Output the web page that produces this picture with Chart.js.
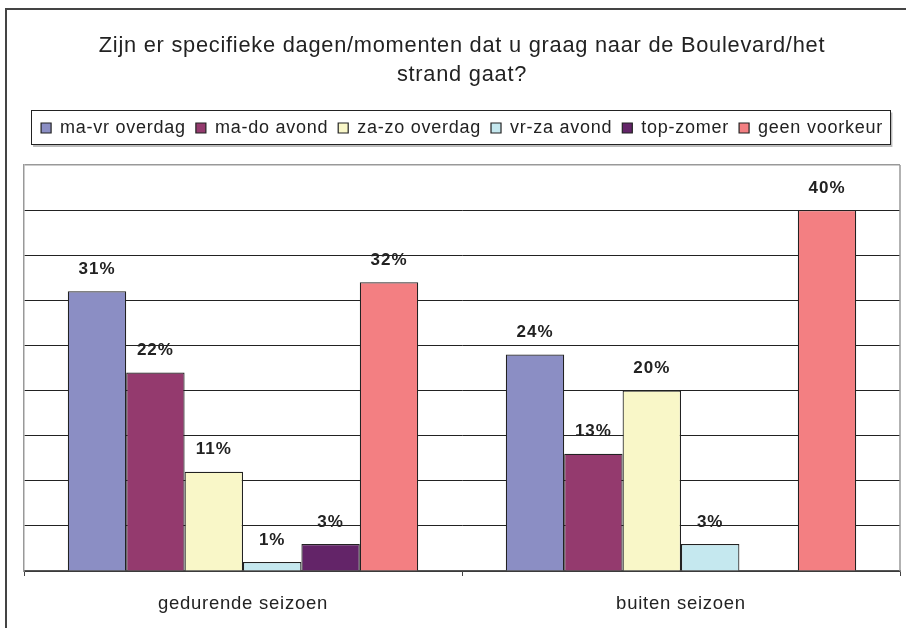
<!DOCTYPE html>
<html>
<head>
<meta charset="utf-8">
<script src="https://cdn.jsdelivr.net/npm/chart.js@4"></script>
<style>
  body { margin: 0; background: #fff; }
  canvas { display: block; }
</style>
</head>
<body>
<canvas id="myChart" width="906" height="628"></canvas>
<script>
const ctx = document.getElementById("myChart");

const categories = ['gedurende seizoen', 'buiten seizoen'];

const seriesNames = [
    'ma-vr overdag',
    'ma-do avond',
    'za-zo overdag',
    'vr-za avond',
    'top-zomer',
    'geen voorkeur'
];

// percentages per category
const maVrOverdag = [31, 24];
const maDoAvond = [22, 13];
const zaZoOverdag = [11, 20];
const vrZaAvond = [1, 3];
const topZomer = [3, null];
const geenVoorkeur = [32, 40];

const yMax = 45;
const yStep = 5;

const colors = ['#8b8ec4', '#943a6e', '#f9f7c8', '#c5e8ef', '#632468', '#f37f82'];
const values = [maVrOverdag, maDoAvond, zaZoOverdag, vrZaAvond, topZomer, geenVoorkeur];

const fontFamily = '"Liberation Sans", Arial, Helvetica, sans-serif';
const spacing = '0.75px';

const data = {
    labels: categories,
    datasets: seriesNames.map((name, i) => ({
        label: name,
        data: values[i],
        backgroundColor: colors[i],
        borderColor: '#222',
        borderWidth: 1.2,
        categoryPercentage: 0.8,
        barPercentage: 1.0
    }))
};

// spacing + frames + value labels
const decor = {
    id: 'decor',
    beforeUpdate(chart) {
        chart.ctx.letterSpacing = spacing;
    },
    beforeDraw(chart) {
        const c = chart.ctx;
        c.save();
        c.fillStyle = '#fff';
        c.fillRect(0, 0, chart.width, chart.height);
        c.strokeStyle = '#444';
        c.lineWidth = 2;
        c.strokeRect(6, 9, chart.width + 20, chart.height + 20);
        c.restore();
        chart.ctx.letterSpacing = spacing;
    },
    beforeDatasetsDraw(chart) {
        const c = chart.ctx;
        const a = chart.chartArea;
        c.save();
        c.strokeStyle = '#999';
        c.lineWidth = 1.5;
        c.beginPath();
        c.moveTo(a.right, a.top);
        c.lineTo(a.right, a.bottom);
        c.stroke();
        c.restore();
    },
    afterDatasetsDraw(chart) {
        const c = chart.ctx;
        c.save();
        c.letterSpacing = '1px';
        c.font = 'bold 17px ' + fontFamily;
        c.fillStyle = '#222';
        c.textAlign = 'center';
        c.textBaseline = 'middle';
        chart.data.datasets.forEach((ds, i) => {
            const meta = chart.getDatasetMeta(i);
            meta.data.forEach((bar, j) => {
                const v = ds.data[j];
                if (v === null || v === undefined) return;
                c.fillText(v + '%', bar.x, bar.y - 22);
            });
        });
        c.restore();
    },
    afterDraw(chart) {
        const lg = chart.legend;
        if (!lg || !lg.legendHitBoxes.length) return;
        const boxes = lg.legendHitBoxes;
        const left = Math.min(...boxes.map(b => b.left)) - 10;
        const right = Math.max(...boxes.map(b => b.left + b.width)) + 7;
        const midY = boxes[0].top + boxes[0].height / 2;
        const top = Math.round(midY - 18) + 0.5;
        const h = 34;
        const c = chart.ctx;
        c.save();
        c.strokeStyle = '#bbb';
        c.lineWidth = 2;
        c.beginPath();
        c.moveTo(right + 1.5, top + 2);
        c.lineTo(right + 1.5, top + h + 1.5);
        c.lineTo(left + 2, top + h + 1.5);
        c.stroke();
        c.strokeStyle = '#222';
        c.lineWidth = 1;
        c.strokeRect(Math.round(left) + 0.5, top, Math.round(right - left), h);
        c.restore();
    }
};

const config = {
    type: 'bar',
    data: data,
    plugins: [decor],
    options: {
        responsive: false,
        animation: false,
        layout: {
            padding: { left: 24, right: 6, top: 0, bottom: 14 }
        },
        scales: {
            x: {
                grid: {
                    offset: true,
                    drawOnChartArea: false,
                    drawTicks: true,
                    tickLength: 5,
                    color: '#444',
                    lineWidth: 1
                },
                border: { display: true, color: '#555', width: 1.5 },
                ticks: {
                    padding: 17,
                    color: '#222',
                    font: { family: fontFamily, size: 18.5 }
                },
                afterFit(scale) { scale.height = 43; }
            },
            // empty spacer between legend and plot
            xTop: {
                type: 'category',
                position: 'top',
                display: true,
                grid: { display: false },
                border: { display: false },
                ticks: { display: false },
                afterFit(scale) { scale.height = 18; }
            },
            y: {
                min: 0,
                max: yMax,
                ticks: { display: false, stepSize: yStep },
                grid: {
                    drawTicks: false,
                    color: (c) => c.tick && c.tick.value === yMax ? '#999' : '#222',
                    lineWidth: (c) => c.tick && c.tick.value === yMax ? 1.5 : 1
                },
                border: { display: true, color: '#999', width: 1.5 }
            }
        },
        plugins: {
            title: {
                display: true,
                text: ['Zijn er specifieke dagen/momenten dat u graag naar de Boulevard/het', 'strand gaat?'],
                color: '#222',
                font: { family: fontFamily, size: 21.8, weight: 'normal', lineHeight: 29 / 21.8 },
                padding: { top: 31, bottom: 20 }
            },
            legend: {
                display: true,
                position: 'top',
                labels: {
                    boxWidth: 10,
                    boxHeight: 10,
                    padding: 10,
                    color: '#222',
                    font: { family: fontFamily, size: 18 }
                }
            },
            tooltip: { enabled: false }
        }
    }
};

const myChart = new Chart(ctx, config);
</script>
</body>
</html>
